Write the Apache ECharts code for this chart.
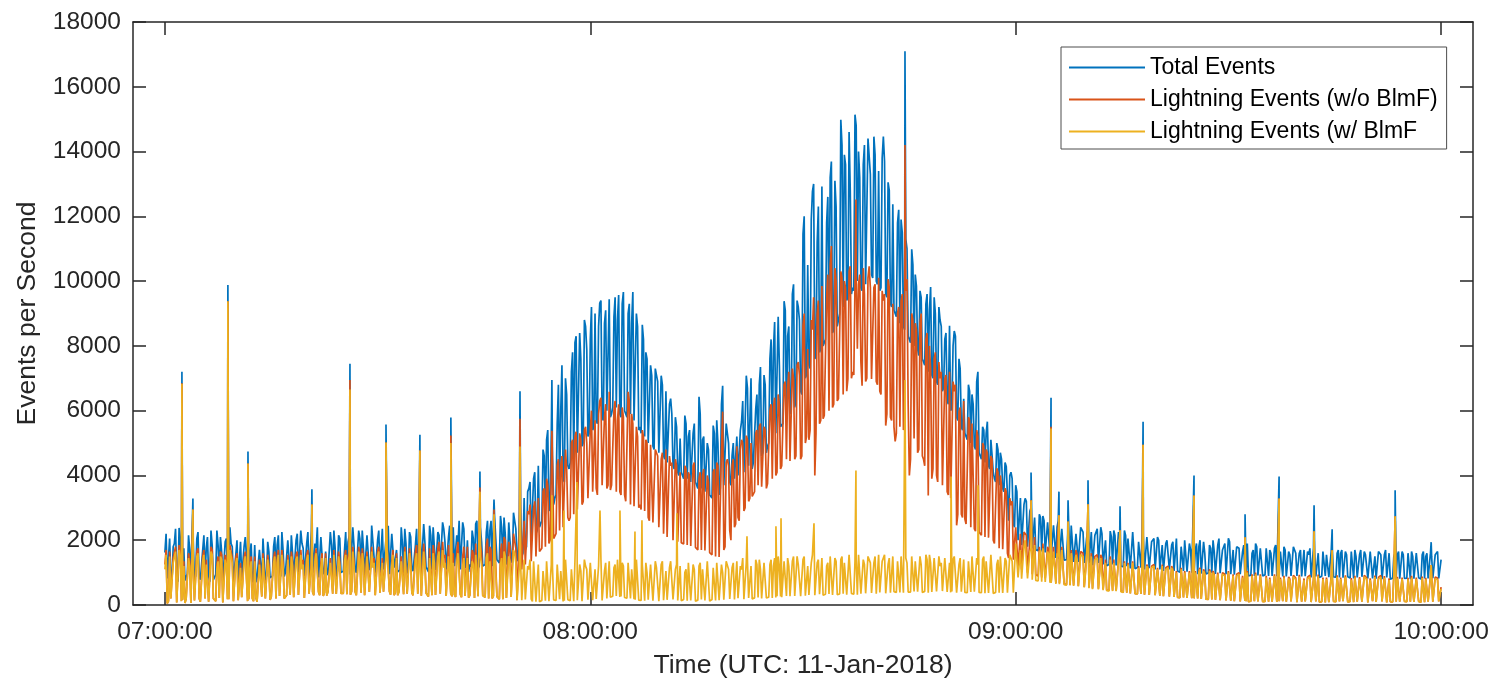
<!DOCTYPE html>
<html>
<head>
<meta charset="utf-8">
<title>Events per Second</title>
<script src="https://cdn.jsdelivr.net/npm/echarts@6/dist/echarts.min.js"></script>
<style>
  html, body { margin: 0; padding: 0; background: #fff; }
  #chart { width: 1493px; height: 684px; }
</style>
</head>
<body>
<div id="chart"></div>
<script>
// samples at every 20 s from 07:00:00 to 10:00:00 UTC (one row = 5 minutes),
// plus the readings 10 s after each of them (the *Mid arrays)
const sampleStep = 20;

const totalEvents = [
  1620, 820, 2050, 760, 1900, 950, 2380, 700, 1750, 880, 2150, 820, 1980, 900, 2250,
  780, 1700, 900, 2100, 720, 1850, 850, 2300, 950, 1650, 800, 2050, 880, 1900, 760,
  1550, 760, 1950, 820, 2100, 900, 1600, 700, 1850, 860, 1700, 780, 2000, 900, 1650,
  850, 1800, 950, 2150, 880, 1700, 1000, 2000, 900, 1600, 850, 2200, 1050, 1900, 900,
  1900, 900, 2300, 1000, 1750, 850, 2100, 950, 1650, 1000, 2250, 900, 1800, 1050, 2050,
  950, 1700, 1100, 2150, 900, 1850, 1000, 2300, 1050, 1750, 950, 2100, 1150, 1950, 1000,
  2000, 1000, 2350, 1100, 1800, 950, 2200, 1150, 1700, 1050, 2400, 1000, 1900, 1100, 2100,
  1050, 1850, 1150, 2300, 1000, 1950, 1200, 2450, 1100, 1800, 1050, 2150, 1200, 2350, 1100,
  2100, 1000, 2400, 1250, 1850, 1100, 2550, 1150, 2000, 1250, 2300, 1100, 2600, 1200, 1950,
  1150, 2250, 1300, 2600, 1200, 2050, 1350, 2750, 1250, 2200, 1400, 2500, 1300, 2800, 1450,
  2900, 1500, 3300, 1800, 3600, 2000, 3900, 2200, 4300, 2500, 4800, 2800, 5400, 3000, 4600,
  3300, 5600, 3600, 7400, 3800, 6500, 4200, 7200, 4500, 8300, 4700, 7600, 5000, 8600, 5200,
  8200, 5400, 9000, 5600, 9320, 5800, 8700, 6000, 9440, 5900, 8900, 6100, 9570, 5800, 9660,
  6000, 9000, 5900, 9660, 5700, 8600, 5500, 8650, 5200, 7600, 5000, 7080, 4800, 7100, 4700,
  7080, 4600, 6600, 4400, 6370, 4300, 5800, 4100, 5140, 4000, 5850, 3900, 5400, 3800, 5600,
  3700, 6430, 3600, 5200, 3500, 4800, 3400, 5540, 3300, 5000, 3600, 6770, 3700, 5300, 3800,
  4620, 3900, 5200, 4000, 5660, 4100, 7080, 4300, 7000, 4400, 6060, 4500, 7350, 4700, 6800,
  4900, 7600, 5100, 8740, 5300, 7400, 5500, 9380, 5700, 8600, 6000, 9900, 6300, 9200, 6600,
  11450, 7000, 10500, 7300, 12770, 7600, 11200, 7800, 12920, 8100, 11800, 8300, 13690, 8500, 12300,
  8800, 14980, 9200, 13600, 9500, 12800, 9800, 15140, 10000, 13200, 9700, 14200, 9900, 13850, 10200,
  14460, 10000, 13400, 9800, 14460, 9600, 13050, 9300, 12370, 9000, 11800, 8700, 11500, 8500, 11000,
  8200, 10980, 8000, 9850, 7700, 9500, 7500, 9300, 7200, 9820, 7000, 9000, 6800, 8800, 6600,
  8200, 6300, 8620, 6100, 8460, 5800, 7600, 5500, 6370, 5200, 6800, 5000, 6200, 4800, 7200,
  4600, 5500, 4400, 5660, 4200, 4620, 3900, 5000, 3700, 4500, 3500, 4280, 2600, 4100, 2500,
  3700, 2000, 3300, 1900, 3290, 1800, 2900, 1750, 2700, 1700, 2800, 1650, 2600, 1600, 2500,
  1500, 2460, 1450, 2600, 1400, 2300, 1400, 2200, 1350, 2500, 1350, 2150, 1300, 2350, 1300,
  2060, 1300, 2250, 1250, 2100, 1300, 2400, 1250, 2000, 1200, 2280, 1250, 2150, 1200, 2050,
  1150, 2300, 1200, 2000, 1150, 2200, 1100, 1950, 1150, 2150, 1100, 2050, 1150, 1900, 1100,
  2100, 1100, 1850, 1050, 2000, 1100, 1850, 1050, 2050, 1000, 1800, 1050, 1950, 1000, 1700,
  1000, 1700, 950, 2000, 1000, 1600, 950, 1850, 1000, 1650, 950, 2050, 1000, 1750, 950,
  2060, 950, 1700, 900, 1850, 950, 1650, 900, 1900, 950, 1600, 900, 1800, 900, 1700,
  950, 1750, 900, 1600, 950, 1850, 900, 1650, 880, 1700, 900, 1550, 880, 1750, 900,
  1600, 880, 1700, 900, 1550, 850, 1750, 880, 1600, 850, 1650, 900, 1500, 850, 1700,
  880, 1600, 850, 1700, 880, 1550, 850, 1650, 820, 1500, 880, 1700, 850, 1550, 820,
  1650, 820, 1500, 850, 1700, 800, 1550, 850, 1600, 800, 1500, 850, 1650, 800, 1550,
  820, 1600, 800, 1500, 850, 1650, 800, 1550, 820, 1600, 800, 1500, 850, 1600, 820,
  1400
];
const totalEventsMid = [
  2200, 780, 900, 1800, 2350, 720, 1950, 850, 760, 950, 1700, 2250, 800, 2050, 880,
  820, 2150, 1750, 900, 2300, 780, 950, 1850, 2100, 740, 1950, 880, 2400, 1800, 820,
  2000, 720, 850, 1800, 2150, 780, 1900, 820, 700, 880, 1750, 2050, 760, 1950, 840,
  900, 2100, 1850, 1000, 2250, 880, 950, 1950, 2150, 860, 2000, 1020, 2300, 1750, 940,
  2250, 900, 1000, 1900, 2400, 860, 2100, 1050, 920, 980, 1850, 2300, 880, 2150, 1000,
  1050, 2250, 1950, 940, 2400, 1100, 980, 2050, 2300, 920, 2150, 1080, 2450, 1900, 1000,
  2300, 1000, 1100, 2000, 2450, 960, 2200, 1150, 1020, 1080, 1900, 2350, 980, 2250, 1120,
  1100, 2350, 2000, 1050, 2500, 1180, 1020, 2150, 2400, 1080, 2250, 1150, 2550, 1950, 1060,
  2450, 1050, 1200, 2150, 2600, 1100, 2350, 1250, 1020, 1180, 2050, 2500, 1120, 2400, 1200,
  1250, 2600, 2300, 1200, 2750, 1400, 1300, 2400, 2700, 1250, 2550, 1450, 2850, 2350, 1350,
  3100, 1600, 1700, 3500, 3800, 2000, 4100, 2300, 2400, 2600, 4600, 5100, 2900, 5300, 3100,
  3400, 6800, 6000, 3900, 7000, 4300, 4400, 7800, 8100, 4700, 8400, 4900, 8800, 7900, 5300,
  9200, 5500, 5700, 8600, 9400, 5700, 9100, 6000, 5800, 6100, 9500, 8800, 5900, 9300, 6000,
  5800, 9300, 8700, 5700, 9000, 5400, 5300, 8200, 7800, 5000, 7400, 4900, 7300, 6900, 4700,
  6800, 4500, 4400, 6200, 5900, 4200, 5500, 4000, 4100, 3900, 5600, 5200, 3800, 5300, 3800,
  3600, 5900, 5100, 3500, 5000, 3400, 3300, 5300, 5700, 3400, 6200, 3700, 5600, 5000, 3700,
  5000, 3900, 4000, 5400, 6300, 4100, 6700, 4300, 4200, 4400, 6500, 6800, 4600, 7100, 4700,
  5000, 8200, 7900, 5300, 8900, 5500, 5600, 9100, 8300, 5900, 9600, 6100, 9400, 8800, 6500,
  12000, 7100, 7400, 11900, 13000, 7700, 12300, 7900, 8000, 8200, 12600, 13200, 8400, 13100, 8600,
  9000, 14200, 13900, 9400, 14600, 9600, 9700, 14800, 14000, 9800, 13600, 9900, 14400, 13300, 10100,
  13900, 9900, 9700, 13800, 13700, 9500, 12800, 9200, 9100, 8900, 12200, 11900, 8600, 11300, 8300,
  8100, 10500, 10200, 7900, 9700, 7600, 7400, 9600, 9100, 7100, 9500, 6900, 9200, 8600, 6700,
  8400, 6200, 6000, 8000, 8300, 5700, 7300, 5400, 5300, 5100, 6600, 6500, 4900, 6900, 4700,
  4500, 5400, 5300, 4300, 5100, 4100, 3800, 4800, 4700, 3600, 4400, 3400, 4000, 3900, 2400,
  3500, 1950, 1850, 3100, 3200, 1780, 3000, 1720, 1700, 1680, 2700, 2750, 1620, 2550, 1550,
  1480, 2500, 2400, 1420, 2350, 1380, 1400, 2300, 2450, 1330, 2200, 1330, 2400, 2250, 1300,
  2300, 1280, 1230, 2150, 2350, 1270, 2200, 1230, 1210, 1250, 2100, 2300, 1220, 2250, 1200,
  1180, 2150, 2050, 1130, 2250, 1120, 1160, 2000, 2200, 1100, 2100, 1140, 1950, 2050, 1100,
  2000, 1080, 1050, 1900, 2050, 1070, 1950, 1030, 1050, 1010, 1850, 2000, 1030, 1900, 1000,
  980, 1900, 1800, 970, 1950, 960, 990, 1750, 2000, 960, 1850, 980, 1700, 1900, 950,
  1950, 920, 940, 1800, 1750, 910, 1850, 930, 900, 920, 1700, 1900, 910, 1750, 900,
  930, 1800, 1700, 900, 1750, 890, 920, 1700, 1800, 880, 1650, 900, 1800, 1600, 890,
  1700, 870, 890, 1650, 1750, 860, 1600, 880, 850, 890, 1700, 1550, 860, 1650, 870,
  860, 1700, 1600, 840, 1650, 870, 830, 1600, 1700, 850, 1550, 870, 1650, 1500, 830,
  1600, 830, 810, 1650, 1550, 820, 1700, 840, 800, 830, 1600, 1550, 810, 1650, 820,
  830, 1550, 1650, 810, 1600, 840, 800, 1650, 1500, 820, 1600, 830, 1550, 1650, 800
];

const lightningNoFilter = [
  1250, 50, 1650, 150, 1450, 80, 1850, 120, 1350, 200, 1600, 60, 1250, 180, 1750,
  100, 1500, 200, 1400, 60, 1700, 150, 1250, 220, 1550, 90, 1350, 180, 1800, 120,
  1450, 150, 1300, 250, 1650, 120, 1200, 200, 1500, 100, 1400, 260, 1600, 180, 1250,
  250, 1450, 200, 1700, 300, 1300, 180, 1550, 320, 1350, 250, 1650, 300, 1250, 220,
  1550, 350, 1400, 300, 1750, 400, 1300, 280, 1600, 420, 1450, 350, 1700, 300, 1350,
  400, 1500, 330, 1650, 420, 1350, 300, 1800, 380, 1400, 350, 1600, 420, 1300, 300,
  1650, 380, 1450, 350, 1850, 420, 1350, 300, 1600, 400, 1500, 330, 1750, 380, 1400,
  300, 1650, 350, 1850, 280, 1450, 380, 1750, 300, 1600, 250, 1950, 330, 1450, 280,
  1850, 300, 1600, 250, 1950, 330, 1500, 280, 1800, 300, 1700, 220, 1950, 280, 1600,
  250, 1850, 200, 1700, 280, 2200, 220, 1650, 180, 2000, 250, 1800, 200, 2150, 150,
  2300, 1100, 2600, 1200, 2800, 1350, 3000, 1500, 3300, 1600, 3500, 1800, 3700, 2000, 4400,
  2100, 4300, 2300, 4600, 2400, 4200, 2600, 5000, 2800, 5350, 2900, 5100, 3200, 5500, 3300,
  5400, 3500, 5700, 3400, 6300, 3700, 5800, 3600, 6580, 3700, 6000, 3500, 6200, 3400, 5800,
  3200, 6580, 3100, 5600, 3000, 5200, 3100, 5400, 2900, 5000, 2600, 4900, 2500, 4700, 2400,
  4500, 2200, 4800, 2100, 4300, 2000, 4500, 1950, 4100, 1900, 4300, 1850, 4000, 1800, 4400,
  1750, 3900, 1700, 4200, 1650, 3800, 1600, 4100, 1500, 4300, 1450, 5970, 1800, 4500, 2300,
  4300, 2400, 4900, 2600, 5100, 2900, 5230, 3200, 5000, 3400, 5300, 3700, 5600, 3600, 5400,
  3750, 6000, 3900, 6400, 4100, 6200, 4300, 6800, 4500, 7200, 4400, 7000, 4600, 7500, 4500,
  8620, 5000, 7900, 5400, 8500, 4000, 9000, 5600, 9850, 5850, 9500, 6000, 11080, 6200, 10000,
  6370, 10300, 6500, 9800, 6980, 10460, 7200, 9900, 7910, 10200, 6770, 9600, 7000, 10460, 6980,
  9800, 6900, 10100, 6500, 9400, 5540, 10060, 5800, 9300, 5050, 9000, 5500, 9600, 6460, 10060,
  4000, 9000, 5140, 8500, 4800, 9000, 4500, 8200, 3380, 7290, 4200, 7800, 3800, 7000, 3700,
  6980, 3500, 7200, 3300, 6600, 2460, 5970, 2800, 6300, 2500, 5800, 2400, 5540, 2280, 5200,
  2200, 5000, 2100, 4700, 2060, 4500, 1900, 4220, 1750, 3700, 1700, 3500, 1450, 3080, 1400,
  2400, 1200, 2200, 1100, 2300, 1000, 2000, 950, 2100, 900, 1800, 850, 1900, 800, 1700,
  700, 1800, 680, 1650, 660, 1850, 640, 1600, 620, 1750, 600, 1550, 580, 1700, 560,
  1500, 540, 1600, 520, 1450, 500, 1550, 480, 1400, 460, 1500, 450, 1350, 440, 1450,
  400, 1350, 380, 1250, 370, 1400, 350, 1200, 340, 1300, 320, 1150, 310, 1250, 300,
  1150, 290, 1250, 280, 1100, 260, 1200, 250, 1050, 240, 1150, 230, 1000, 220, 1100,
  210, 1050, 200, 1150, 190, 1000, 180, 1100, 170, 950, 160, 1050, 150, 1000, 140,
  1050, 130, 950, 120, 1000, 110, 900, 130, 1050, 100, 950, 120, 1000, 110, 900,
  120, 900, 100, 830, 110, 950, 90, 850, 120, 920, 100, 800, 110, 870, 90,
  930, 100, 820, 120, 890, 90, 810, 110, 940, 100, 850, 80, 900, 120, 830,
  90, 920, 110, 800, 100, 890, 120, 830, 90, 940, 110, 810, 100, 880, 80,
  820, 120, 910, 90, 850, 110, 890, 80, 820, 110, 930, 100, 810, 90, 870,
  120, 840, 100, 900, 80, 820, 110, 880, 90, 830, 120, 910, 100, 850, 110,
  550
];
const lightningNoFilterMid = [
  1700, 120, 200, 1450, 1800, 90, 1600, 160, 60, 220, 1350, 1750, 140, 1650, 200,
  150, 1700, 1400, 100, 1800, 200, 120, 1500, 1650, 80, 1550, 180, 1850, 1450, 130,
  1600, 130, 240, 1450, 1650, 180, 1500, 120, 220, 150, 1350, 1600, 200, 1550, 160,
  230, 1650, 1450, 280, 1700, 200, 300, 1500, 1650, 240, 1550, 310, 1700, 1400, 260,
  1700, 320, 400, 1500, 1750, 300, 1600, 380, 290, 410, 1450, 1700, 340, 1650, 360,
  360, 1700, 1500, 320, 1800, 410, 340, 1550, 1750, 300, 1650, 400, 1800, 1450, 350,
  1800, 340, 410, 1550, 1850, 320, 1700, 390, 300, 400, 1500, 1800, 350, 1750, 380,
  320, 1850, 1600, 290, 1900, 370, 260, 1700, 1850, 310, 1750, 350, 1950, 1550, 300,
  1900, 260, 320, 1650, 1950, 240, 1800, 310, 230, 300, 1600, 1900, 270, 1850, 290,
  240, 2050, 1800, 200, 2150, 260, 180, 1900, 2100, 220, 1950, 250, 2200, 1750, 190,
  2500, 1150, 1250, 2900, 3100, 1400, 3200, 1550, 1650, 1750, 3600, 3900, 1900, 4100, 2050,
  2200, 4500, 4300, 2400, 4800, 2700, 2700, 5100, 5200, 2950, 5300, 3100, 5400, 5000, 3300,
  6000, 3450, 3600, 5900, 6400, 3650, 6200, 3700, 3550, 3650, 6300, 5700, 3500, 6100, 3400,
  3150, 6300, 5900, 3050, 5500, 3000, 2950, 5200, 5100, 2700, 4950, 2550, 4800, 4600, 2400,
  4700, 2150, 2100, 4600, 4400, 2050, 4300, 1950, 1920, 1880, 4200, 4100, 1820, 4300, 1780,
  1700, 4100, 4000, 1680, 4000, 1620, 1550, 4200, 4400, 1480, 4800, 1700, 4400, 4300, 2000,
  4500, 2500, 2700, 4800, 5000, 3000, 5100, 3300, 3350, 3500, 5400, 5500, 3650, 5500, 3600,
  3800, 6200, 6100, 4000, 6500, 4200, 4250, 6900, 6700, 4450, 7300, 4500, 7400, 7100, 4600,
  9000, 5200, 5100, 8800, 9500, 5300, 9400, 5700, 5750, 5900, 10200, 10500, 6100, 10400, 6300,
  6400, 10100, 10000, 6600, 10300, 7000, 7100, 10200, 9900, 7500, 10400, 6900, 10100, 9800, 7000,
  9900, 6800, 6600, 9700, 9600, 5900, 9800, 5700, 5500, 5300, 9200, 9400, 5400, 9700, 6200,
  4500, 8800, 8700, 4700, 8700, 4600, 4300, 8400, 8000, 3900, 7600, 4000, 7500, 7200, 3700,
  7100, 3400, 3300, 6900, 6800, 2800, 6100, 2700, 2650, 2450, 5700, 5600, 2350, 5400, 2250,
  2150, 4900, 4800, 2080, 4600, 2000, 1850, 4100, 4000, 1720, 3600, 1600, 3300, 3200, 1420,
  2350, 1150, 1100, 2250, 2150, 1050, 2050, 980, 930, 900, 1850, 1900, 830, 1800, 780,
  690, 1750, 1700, 670, 1800, 650, 630, 1650, 1700, 610, 1700, 590, 1650, 1600, 570,
  1550, 530, 510, 1500, 1550, 490, 1450, 470, 460, 450, 1450, 1400, 440, 1400, 430,
  390, 1350, 1300, 360, 1350, 350, 340, 1250, 1300, 320, 1250, 310, 1200, 1250, 300,
  1200, 280, 270, 1150, 1200, 255, 1100, 245, 235, 230, 1100, 1050, 220, 1050, 210,
  205, 1100, 1050, 190, 1100, 180, 175, 1000, 1050, 160, 1000, 150, 1000, 950, 140,
  1000, 125, 115, 950, 1000, 110, 950, 120, 105, 115, 950, 1000, 110, 950, 100,
  110, 900, 850, 100, 950, 95, 115, 850, 900, 100, 870, 110, 920, 830, 95,
  900, 100, 110, 860, 920, 95, 830, 105, 90, 100, 880, 850, 85, 900, 110,
  100, 880, 850, 115, 920, 95, 110, 830, 900, 100, 860, 105, 920, 840, 90,
  880, 110, 95, 850, 910, 100, 840, 90, 105, 95, 900, 870, 100, 850, 110,
  105, 860, 900, 95, 850, 110, 90, 880, 840, 100, 900, 105, 860, 830, 100
];

const lightningFilter = [
  1100, 50, 1500, 150, 1300, 80, 1700, 120, 1200, 200, 1450, 60, 1100, 180, 1600,
  100, 1350, 200, 1250, 60, 1550, 150, 1100, 220, 1400, 90, 1200, 180, 1650, 120,
  1300, 150, 1150, 250, 1500, 120, 1050, 200, 1350, 100, 1250, 260, 1450, 180, 1100,
  250, 1300, 200, 1550, 300, 1150, 180, 1400, 320, 1200, 250, 1500, 300, 1100, 220,
  1400, 350, 1250, 300, 1600, 400, 1150, 280, 1450, 420, 1300, 350, 1550, 300, 1200,
  400, 1350, 330, 1500, 420, 1200, 300, 1650, 380, 1250, 350, 1450, 420, 1150, 300,
  1500, 380, 1300, 350, 1700, 420, 1200, 300, 1450, 400, 1350, 330, 1600, 380, 1250,
  300, 1400, 350, 1550, 280, 1200, 380, 1450, 300, 1300, 250, 1650, 330, 1150, 280,
  1500, 300, 1300, 250, 1600, 330, 1200, 280, 1450, 300, 1350, 220, 1550, 280, 1250,
  250, 1450, 200, 1300, 280, 1700, 220, 1250, 180, 1500, 250, 1350, 200, 1600, 150,
  1200, 150, 1400, 120, 1100, 180, 1350, 100, 1250, 160, 1050, 130, 1300, 150, 1150,
  120, 1250, 180, 1000, 130, 1350, 150, 1100, 120, 1400, 170, 1050, 130, 1200, 160,
  1300, 150, 1100, 180, 1250, 140, 1050, 200, 1350, 250, 1150, 280, 1400, 260, 1200,
  230, 1300, 200, 1100, 160, 1350, 150, 1250, 130, 1000, 170, 1300, 140, 1150, 120,
  1250, 150, 1050, 130, 1350, 170, 1100, 140, 1200, 160, 1000, 130, 1300, 150, 1100,
  140, 1200, 170, 1050, 130, 1350, 160, 1150, 140, 1250, 180, 1000, 150, 1300, 190,
  1150, 170, 1350, 200, 1100, 180, 1300, 220, 1200, 190, 1400, 230, 1100, 210, 1350,
  250, 1250, 220, 1450, 270, 1150, 240, 1350, 280, 1200, 260, 1500, 300, 1250, 270,
  1400, 290, 1200, 320, 1550, 300, 1300, 330, 1450, 280, 1200, 340, 1500, 300, 1350,
  330, 1400, 350, 1250, 300, 1600, 360, 1350, 320, 1500, 380, 1250, 340, 1450, 370,
  1300, 350, 1550, 400, 1400, 360, 1250, 380, 1500, 420, 1350, 390, 1450, 400, 1300,
  380, 1500, 420, 1350, 400, 1250, 430, 1550, 380, 1300, 410, 1450, 390, 1200, 430,
  1450, 400, 1300, 420, 1500, 380, 1250, 410, 1400, 370, 1350, 400, 1500, 380, 1250,
  400, 1400, 360, 1300, 390, 1550, 350, 1250, 380, 1450, 360, 1350, 400, 1500, 380,
  1900, 850, 1700, 800, 2000, 820, 1650, 780, 1850, 750, 1600, 720, 1750, 700, 1550,
  680, 1650, 650, 1500, 640, 1700, 620, 1450, 600, 1600, 580, 1400, 560, 1550, 540,
  1400, 520, 1500, 500, 1350, 480, 1450, 460, 1300, 440, 1400, 430, 1250, 420, 1350,
  400, 1300, 380, 1200, 370, 1350, 350, 1150, 340, 1250, 320, 1100, 310, 1200, 300,
  1100, 290, 1200, 280, 1050, 260, 1150, 250, 1000, 240, 1100, 230, 950, 220, 1050,
  210, 1000, 200, 1100, 190, 950, 180, 1050, 170, 900, 160, 1000, 150, 950, 140,
  1000, 130, 900, 120, 950, 110, 850, 130, 1000, 100, 900, 120, 950, 110, 850,
  120, 850, 100, 780, 110, 900, 90, 800, 120, 870, 100, 750, 110, 820, 90,
  880, 100, 770, 120, 840, 90, 760, 110, 890, 100, 800, 80, 850, 120, 780,
  90, 870, 110, 750, 100, 840, 120, 780, 90, 890, 110, 760, 100, 830, 80,
  770, 120, 860, 90, 800, 110, 840, 80, 770, 110, 880, 100, 760, 90, 820,
  120, 790, 100, 850, 80, 770, 110, 830, 90, 780, 120, 860, 100, 800, 110,
  500
];
const lightningFilterMid = [
  1550, 120, 200, 1300, 1650, 90, 1450, 160, 60, 220, 1200, 1600, 140, 1500, 200,
  150, 1550, 1250, 100, 1650, 200, 120, 1350, 1500, 80, 1400, 180, 1700, 1300, 130,
  1450, 130, 240, 1300, 1500, 180, 1350, 120, 220, 150, 1200, 1450, 200, 1400, 160,
  230, 1500, 1300, 280, 1550, 200, 300, 1350, 1500, 240, 1400, 310, 1550, 1250, 260,
  1550, 320, 400, 1350, 1600, 300, 1450, 380, 290, 410, 1300, 1550, 340, 1500, 360,
  360, 1550, 1350, 320, 1650, 410, 340, 1400, 1600, 300, 1500, 400, 1650, 1300, 350,
  1650, 340, 410, 1400, 1700, 320, 1550, 390, 300, 400, 1350, 1650, 350, 1600, 380,
  320, 1600, 1350, 290, 1650, 370, 260, 1450, 1600, 310, 1500, 350, 1700, 1300, 300,
  1550, 260, 320, 1300, 1600, 240, 1450, 310, 230, 300, 1250, 1550, 270, 1500, 290,
  240, 1600, 1350, 200, 1700, 260, 180, 1450, 1650, 220, 1500, 250, 1700, 1300, 190,
  1350, 130, 170, 1200, 1400, 110, 1300, 150, 100, 140, 1100, 1350, 120, 1250, 160,
  140, 1300, 1050, 110, 1400, 160, 130, 1150, 1350, 150, 1250, 120, 1400, 1100, 170,
  1350, 160, 190, 1200, 1400, 150, 1300, 210, 240, 270, 1250, 1400, 250, 1300, 230,
  210, 1350, 1100, 180, 1400, 150, 140, 1200, 1300, 160, 1250, 130, 1350, 1150, 110,
  1350, 140, 160, 1150, 1400, 120, 1250, 150, 130, 170, 1100, 1300, 140, 1250, 120,
  150, 1300, 1100, 140, 1350, 120, 170, 1200, 1300, 150, 1250, 160, 1350, 1100, 180,
  1300, 190, 210, 1200, 1450, 180, 1350, 200, 190, 220, 1250, 1400, 200, 1300, 220,
  240, 1400, 1200, 230, 1500, 260, 250, 1300, 1450, 270, 1350, 280, 1500, 1250, 290,
  1500, 300, 310, 1300, 1550, 290, 1400, 320, 300, 330, 1300, 1500, 310, 1450, 320,
  340, 1500, 1300, 320, 1550, 360, 330, 1400, 1550, 350, 1400, 360, 1500, 1300, 370,
  1500, 370, 390, 1350, 1550, 380, 1450, 400, 410, 390, 1350, 1500, 380, 1450, 400,
  400, 1550, 1350, 410, 1500, 390, 420, 1400, 1550, 400, 1450, 420, 1500, 1300, 410,
  1500, 410, 390, 1400, 1550, 380, 1450, 400, 390, 380, 1350, 1500, 410, 1450, 390,
  380, 1500, 1350, 370, 1550, 360, 390, 1400, 1500, 370, 1450, 380, 1550, 1350, 390,
  1950, 830, 810, 1800, 1950, 800, 1750, 770, 760, 740, 1700, 1750, 710, 1650, 690,
  670, 1650, 1600, 640, 1700, 630, 610, 1550, 1600, 590, 1550, 570, 1550, 1500, 550,
  1450, 510, 490, 1400, 1450, 470, 1400, 450, 440, 435, 1350, 1300, 425, 1350, 410,
  390, 1300, 1250, 360, 1300, 350, 340, 1200, 1250, 320, 1200, 310, 1150, 1200, 300,
  1150, 280, 270, 1100, 1150, 255, 1050, 245, 235, 230, 1050, 1000, 220, 1000, 210,
  205, 1050, 1000, 190, 1050, 180, 175, 950, 1000, 160, 950, 150, 950, 900, 140,
  950, 125, 115, 900, 950, 110, 900, 120, 105, 115, 900, 950, 110, 900, 100,
  110, 850, 800, 100, 900, 95, 115, 800, 850, 100, 820, 110, 870, 780, 95,
  850, 100, 110, 810, 870, 95, 780, 105, 90, 100, 830, 800, 85, 850, 110,
  100, 830, 800, 115, 870, 95, 110, 780, 850, 100, 810, 105, 870, 790, 90,
  830, 110, 95, 800, 860, 100, 790, 90, 105, 95, 850, 820, 100, 800, 110,
  105, 810, 850, 95, 800, 110, 90, 830, 790, 100, 850, 105, 810, 780, 100
];

// short one-second bursts (null = no burst in that series)
const spikeTimes = [
  '07:02:24', '07:03:57', '07:08:53', '07:11:43', '07:20:44', '07:26:06', '07:31:11',
  '07:35:58', '07:40:20', '07:44:26', '07:46:25', '07:50:05', '07:54:35', '07:56:17',
  '07:58:07', '08:01:22', '08:04:11', '08:06:18', '08:07:17', '08:12:13', '08:22:06',
  '08:26:11', '08:26:54', '08:31:33', '08:37:28', '08:44:23', '08:50:53', '08:54:41',
  '09:02:10', '09:04:59', '09:06:06', '09:07:23', '09:10:12', '09:14:43', '09:17:58',
  '09:25:09', '09:32:21', '09:37:09', '09:42:05', '09:44:38', '09:53:31', '09:58:36'
];
const totalSpikes = [
  7200, 3290, 9880, 4740, 3570, 7450, 5570,
  5260, 5790, 4120, 3260, 6600, 6950, null,
  null, null, null, null, null, null, null,
  null, null, null, null, 17100, null, null,
  4090, 6400, 3500, 3230, 3850, 3050, 5660,
  4000, 2800, 3970, 3080, 2340, 3540, 1940
];
const noFilterSpikes = [
  6850, 2950, 9380, 4370, 3100, 6950, 5020,
  4770, 5230, 3630, 2950, 5750, 5380, null,
  null, null, null, null, null, null, null,
  null, null, null, 12520, 14200, null, null,
  3230, 5500, 2770, 2580, 3110, 2310, 4950,
  3380, 2090, 3290, 2280, 1690, 2740, 1230
];
const filterSpikes = [
  6830, 2950, 9380, 4370, 3100, 6650, 5020,
  4770, 5000, 3500, 2800, 4890, 3390, 2920,
  3800, 2920, 2920, 2270, 2620, 2830, 2120,
  2430, 2680, 2520, 4150, 6950, 3970, 3700,
  3230, 5450, 2770, 2580, 3110, 2310, 4950,
  3380, 2090, 3290, 2280, 1690, 2740, 1230
];

const tickLabels = ['07:00:00', '08:00:00', '09:00:00', '10:00:00'];
const seriesNames = ['Total Events', 'Lightning Events (w/o BlmF)', 'Lightning Events (w/ BlmF'];
const colorList = ['#0072BD', '#D95319', '#EDB120'];

[totalEvents, lightningNoFilter, lightningFilter].forEach((arr, i) => {
  if (arr.length !== 541) throw new Error('series ' + i + ' has ' + arr.length + ' values');
});
[totalEventsMid, lightningNoFilterMid, lightningFilterMid].forEach((arr, i) => {
  if (arr.length !== 540) throw new Error('mid series ' + i + ' has ' + arr.length + ' values');
});

const fontFamily = "'Liberation Sans', Arial, Helvetica, sans-serif";
const axisColor = '#262626';

function toSeconds(hms) {
  const [h, m, s] = hms.split(':').map(Number);
  return (h - 7) * 3600 + m * 60 + s;
}

function buildData(values, mids, spikes) {
  const points = [];
  values.forEach((v, i) => {
    points.push([i * sampleStep, v]);
    if (i < mids.length) points.push([i * sampleStep + sampleStep / 2, mids[i]]);
  });
  spikeTimes.forEach((t, i) => {
    if (spikes[i] != null) points.push([toSeconds(t), spikes[i]]);
  });
  return points.sort((a, b) => a[0] - b[0]);
}

const tickSeconds = tickLabels.map(toSeconds);
const xMin = -270;
const xMax = 11070;

const axisLineStyle = { color: axisColor, width: 1.5 };

const chart = echarts.init(document.getElementById('chart'), null, { renderer: 'canvas' });

const option = {
  animation: false,
  backgroundColor: '#fff',
  color: colorList,
  grid: { left: 133, right: 20, top: 22, bottom: 77, containLabel: false },
  legend: {
    data: seriesNames,
    orient: 'vertical',
    left: 1061,
    top: 47,
    icon: 'rect',
    itemWidth: 76,
    itemHeight: 2,
    itemGap: 9,
    padding: [9, 9, 6, 8],
    backgroundColor: '#fff',
    borderColor: '#4d4d4d',
    borderWidth: 1,
    borderRadius: 0,
    textStyle: { fontFamily, fontSize: 23, color: '#000', lineHeight: 23 }
  },
  xAxis: [
    {
      type: 'value',
      position: 'bottom',
      min: xMin,
      max: xMax,
      name: 'Time (UTC: 11-Jan-2018)',
      nameLocation: 'middle',
      nameGap: 47,
      nameTextStyle: { fontFamily, fontSize: 26.5, color: axisColor },
      axisLine: { show: true, onZero: false, lineStyle: axisLineStyle },
      axisTick: { show: true, inside: true, length: 13, customValues: tickSeconds, lineStyle: axisLineStyle },
      axisLabel: {
        customValues: tickSeconds,
        margin: 15,
        fontFamily,
        fontSize: 24.5,
        color: axisColor,
        formatter: v => tickLabels[tickSeconds.indexOf(v)] || ''
      },
      splitLine: { show: false }
    },
    {
      type: 'value',
      position: 'top',
      min: xMin,
      max: xMax,
      axisLine: { show: true, onZero: false, lineStyle: axisLineStyle },
      axisTick: { show: true, inside: true, length: 13, customValues: tickSeconds, lineStyle: axisLineStyle },
      axisLabel: { show: false },
      splitLine: { show: false }
    }
  ],
  yAxis: [
    {
      type: 'value',
      position: 'left',
      min: 0,
      max: 18000,
      interval: 2000,
      name: 'Events per Second',
      nameLocation: 'middle',
      nameGap: 92,
      nameTextStyle: { fontFamily, fontSize: 26.5, color: axisColor },
      axisLine: { show: true, onZero: false, lineStyle: axisLineStyle },
      axisTick: { show: true, inside: true, length: 13, lineStyle: axisLineStyle },
      axisLabel: { margin: 12, fontFamily, fontSize: 24.5, color: axisColor, formatter: v => String(v) },
      splitLine: { show: false }
    },
    {
      type: 'value',
      position: 'right',
      min: 0,
      max: 18000,
      interval: 2000,
      axisLine: { show: true, onZero: false, lineStyle: axisLineStyle },
      axisTick: { show: true, inside: true, length: 13, lineStyle: axisLineStyle },
      axisLabel: { show: false },
      splitLine: { show: false }
    }
  ],
  series: [
    { name: seriesNames[0], data: buildData(totalEvents, totalEventsMid, totalSpikes) },
    { name: seriesNames[1], data: buildData(lightningNoFilter, lightningNoFilterMid, noFilterSpikes) },
    { name: seriesNames[2], data: buildData(lightningFilter, lightningFilterMid, filterSpikes) }
  ].map((s, i) => ({
    ...s,
    type: 'line',
    xAxisIndex: 0,
    yAxisIndex: 0,
    symbol: 'none',
    showSymbol: false,
    sampling: null,
    clip: true,
    lineStyle: { width: 1.7, color: colorList[i], join: 'bevel' },
    itemStyle: { color: colorList[i] },
    emphasis: { disabled: true },
    z: 2 + i
  }))
};

chart.setOption(option);
</script>
</body>
</html>
